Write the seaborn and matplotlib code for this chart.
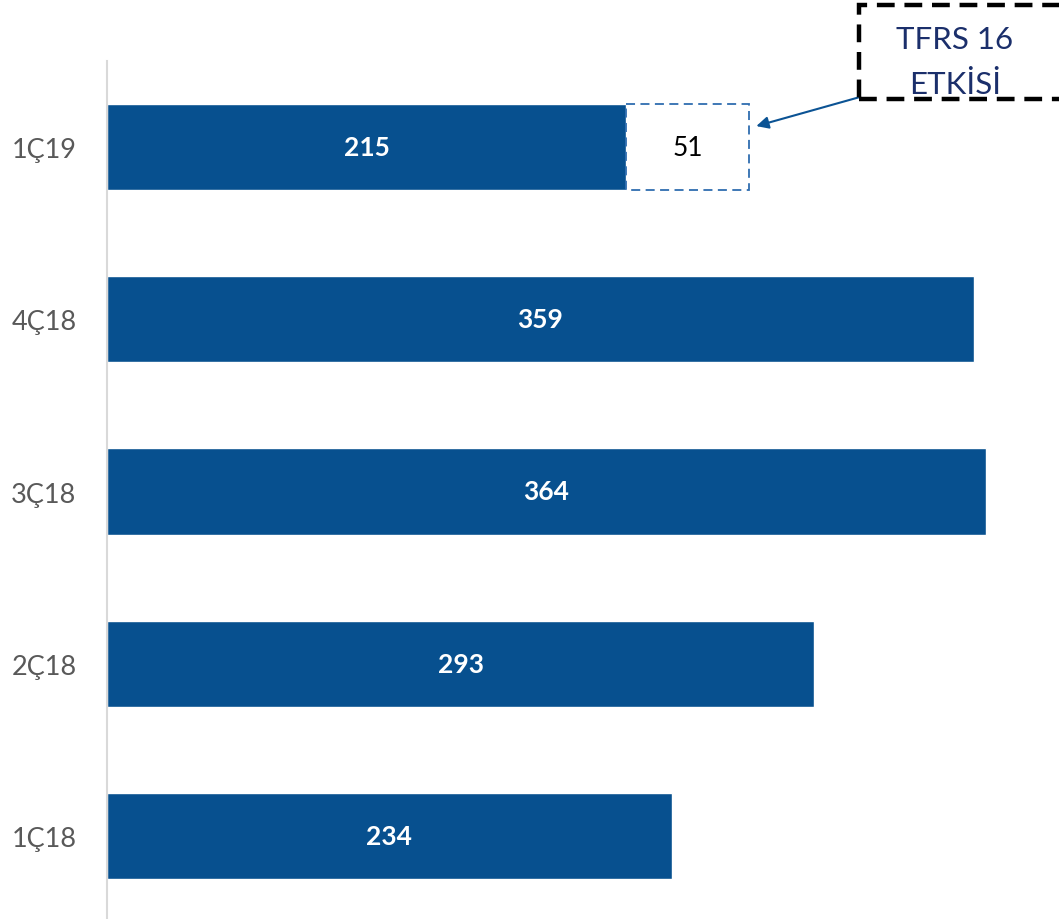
import matplotlib
matplotlib.use('Agg')
import matplotlib.pyplot as plt
import seaborn as sns
import pandas as pd
from matplotlib.patches import Rectangle

donemler = ['1Ç19', '4Ç18', '3Ç18', '2Ç18', '1Ç18']
degerler = [215, 359, 364, 293, 234]
tfrs_donem = '1Ç19'
tfrs_etki = 51

sns.set_theme(style='white')
plt.rcParams['font.family'] = ['Lato', 'DejaVu Sans']

df = pd.DataFrame({'donem': donemler, 'deger': degerler})

fig = plt.figure(figsize=(10.59, 9.2), dpi=100)
ax = fig.add_axes([107 / 1059, -3 / 920, 952 / 1059, 861 / 920])

sns.barplot(data=df, x='deger', y='donem', orient='h', color='#07508F',
            width=0.5, saturation=1, ax=ax)

# TFRS 16 etkisi - kesikli kutu
i = donemler.index(tfrs_donem)
ax.barh(i, tfrs_etki, left=degerler[i], height=0.5, color='white',
        edgecolor='#2F6DB0', linestyle=(0, (5, 3)), linewidth=1.3)

for k, v in enumerate(degerler):
    ax.text(v / 2, k, str(v), ha='center', va='center',
            color='white', fontsize=19, fontweight='bold')
ax.text(degerler[i] + tfrs_etki / 2, i, str(tfrs_etki), ha='center', va='center',
        color='black', fontsize=19)

ax.set_xlim(0, 394.4)
ax.set_ylim(4.5, -0.5)
ax.set_xlabel('')
ax.set_ylabel('')
ax.set_xticks([])
ax.tick_params(axis='y', length=0, labelsize=19.5, labelcolor='#595959', pad=22)
for s in ['top', 'right', 'bottom']:
    ax.spines[s].set_visible(False)
ax.spines['left'].set_color('#D9D9D9')
ax.spines['left'].set_linewidth(1.5)

# etiket kutusu
kutu = Rectangle((859 / 1059, 1 - 100 / 920), 0.25, 94 / 920, transform=fig.transFigure,
                 fill=False, edgecolor='black', linewidth=3.2, linestyle=(0, (4, 2.2)),
                 clip_on=False)
fig.patches.append(kutu)
fig.text(955 / 1059, 1 - 40 / 920, 'TFRS 16', ha='center', va='center',
         fontsize=22.5, color='#1B2F6B')
fig.text(955 / 1059, 1 - 85 / 920, 'ETKİSİ', ha='center', va='center',
         fontsize=22.5, color='#1B2F6B')

ax.annotate('', xy=(269, i - 0.122), xycoords='data',
            xytext=(860 / 1059, 1 - 98 / 920), textcoords='figure fraction',
            arrowprops=dict(arrowstyle='-|>', color='#0B5394', lw=1.5,
                            mutation_scale=18, shrinkA=0, shrinkB=0))

fig.savefig('out.png', dpi=100)
